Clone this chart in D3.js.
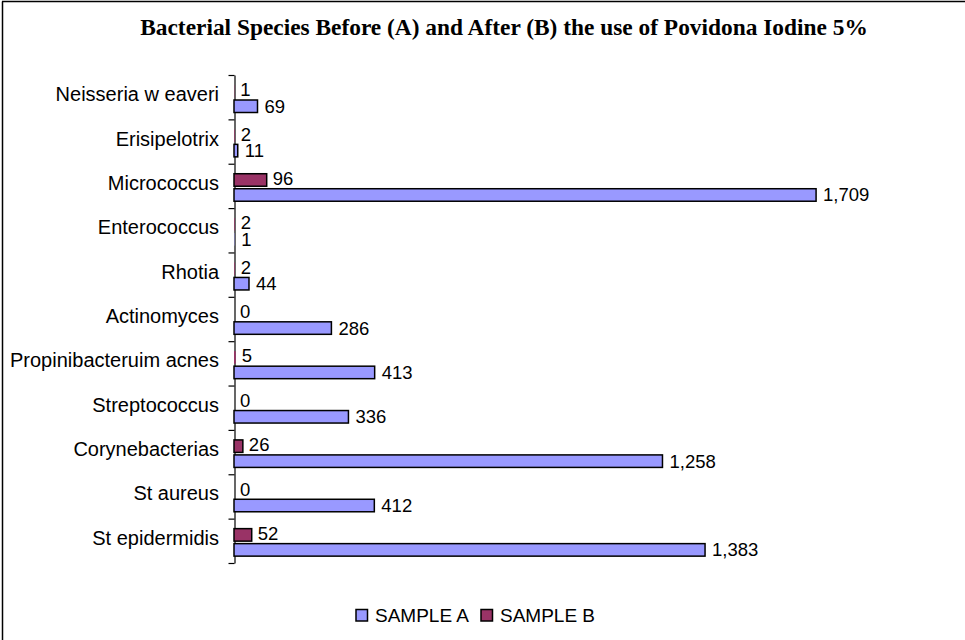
<!DOCTYPE html>
<html>
<head>
<meta charset="utf-8">
<script src="https://cdn.jsdelivr.net/npm/d3@7"></script>
<style>
  html, body { margin: 0; padding: 0; background: #fff; }
  svg { display: block; }
</style>
</head>
<body>
<svg id="chart" width="965" height="640"></svg>
<script>
const categories = ["Neisseria w eaveri", "Erisipelotrix", "Micrococcus", "Enterococcus", "Rhotia",
  "Actinomyces", "Propinibacteruim acnes", "Streptococcus", "Corynebacterias", "St aureus", "St epidermidis"];
const sampleA = [69, 11, 1709, 1, 44, 286, 413, 336, 1258, 412, 1383];
const sampleB = [1, 2, 96, 2, 2, 0, 5, 0, 26, 0, 52];
const seriesNames = ["SAMPLE A", "SAMPLE B"];
const titleText = "Bacterial Species Before (A) and After (B) the use of Povidona Iodine 5%";

const colorA = "#9999FF", colorB = "#993366";
const svg = d3.select("#chart");
const fmt = d3.format(",");

// frame
svg.append("line").attr("x1", 2.5).attr("x2", 2.5).attr("y1", 1.5).attr("y2", 640).attr("stroke", "#000").attr("stroke-width", 1.5);
svg.append("line").attr("x1", 2).attr("x2", 965).attr("y1", 1.5).attr("y2", 1.5).attr("stroke", "#000").attr("stroke-width", 1.5);

// title
const title = svg.append("text").attr("x", 504).attr("y", 35).attr("text-anchor", "middle")
  .attr("font-family", "'Liberation Serif', 'DejaVu Serif', serif").attr("font-weight", "bold")
  .attr("font-size", 20).attr("fill", "#000").text(titleText);
const tw = title.node().getComputedTextLength();
title.attr("font-size", 20 * 728 / tw);

const x = d3.scaleLinear().domain([0, 2000]).range([234, 234 + 681.2]);
const y = d3.scaleBand().domain(categories).range([75, 563]).padding(0);
const yEdge = d3.scaleLinear().domain([0, categories.length]).range([75, 563]);

// axis with ticks at band boundaries
const axis = svg.append("g").attr("transform", "translate(234.5,0)")
  .call(d3.axisLeft(yEdge).tickValues(d3.range(categories.length + 1)).tickSize(6).tickSizeOuter(0).tickFormat(""));
axis.selectAll("path, line").attr("stroke", "#000").attr("stroke-width", 1.2);

// category labels
svg.append("g").selectAll("text").data(categories).join("text")
  .attr("x", 219).attr("y", d => y(d) + y.bandwidth() / 2 + 4)
  .attr("text-anchor", "end").attr("font-family", "'Liberation Sans', Arial, sans-serif")
  .attr("font-size", 20).attr("fill", "#000").text(d => d);

const barH = 12.5, offB = 10, offA = 25;
const rows = categories.map((c, i) => ({ c, a: sampleA[i], b: sampleB[i] }));
const w = v => x(v) - x(0);

// bars
svg.append("g").selectAll("rect.b").data(rows).join("rect")
  .attr("x", x(0)).attr("y", d => y(d.c) + offB).attr("width", d => w(d.b)).attr("height", barH)
  .attr("fill", colorB).attr("stroke", "#000").attr("stroke-width", d => w(d.b) > 3 ? 1.5 : 0);
svg.append("g").selectAll("rect.a").data(rows).join("rect")
  .attr("x", x(0)).attr("y", d => y(d.c) + offA).attr("width", d => w(d.a)).attr("height", barH)
  .attr("fill", colorA).attr("stroke", "#000").attr("stroke-width", d => w(d.a) > 3 ? 1.5 : 0);

// data labels
const lab = svg.append("g").attr("font-family", "'Liberation Sans', Arial, sans-serif").attr("font-size", 18.5).attr("fill", "#000");
lab.selectAll("text.b").data(rows).join("text")
  .attr("x", d => x(d.b) + 6).attr("y", d => y(d.c) + offB + barH / 2 + 5).text(d => fmt(d.b));
lab.selectAll("text.a").data(rows).join("text")
  .attr("x", d => x(d.a) + 7).attr("y", d => y(d.c) + offA + barH / 2 + 6.5).text(d => fmt(d.a));

// legend
const legend = svg.append("g").attr("font-family", "'Liberation Sans', Arial, sans-serif").attr("font-size", 19);
const legX = [356, 481];
const legColors = [colorA, colorB];
seriesNames.forEach((n, i) => {
  legend.append("rect").attr("x", legX[i]).attr("y", 609.5).attr("width", 11.5).attr("height", 11.5)
    .attr("fill", legColors[i]).attr("stroke", "#000").attr("stroke-width", 1.5);
  legend.append("text").attr("x", legX[i] + 19).attr("y", 621.5).text(n);
});
</script>
</body>
</html>
